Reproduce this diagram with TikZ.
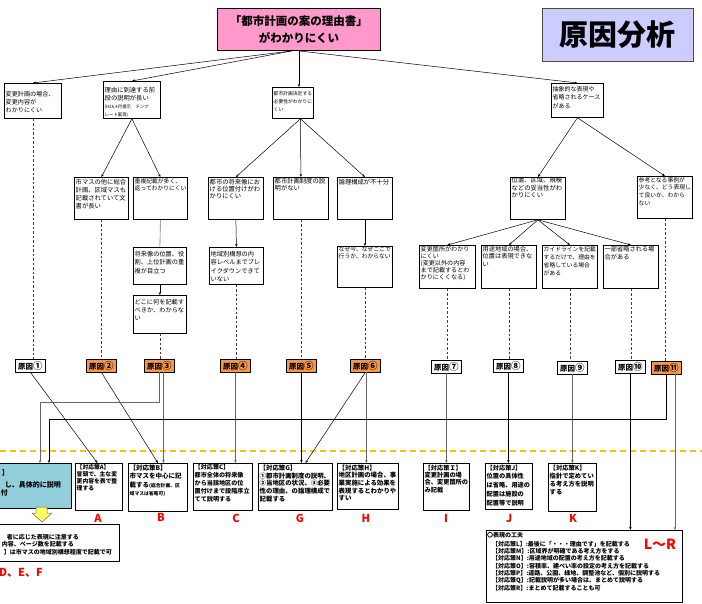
\documentclass[tikz,border=0pt]{standalone}
\usepackage{fontspec}
\setmainfont{Noto Sans CJK JP}
\usetikzlibrary{arrows.meta,calc}
\definecolor{pinkf}{HTML}{FF99CC}
\definecolor{lavf}{HTML}{CCCCFF}
\definecolor{orgf}{HTML}{F79646}
\definecolor{bluef}{HTML}{92CDDC}
\definecolor{yelf}{HTML}{FFFF66}
\definecolor{sepc}{HTML}{FFC000}
\definecolor{redc}{HTML}{FF0000}
\newcommand\fsz[2]{\fontsize{#1}{#2}\selectfont}
\newcommand\mkbox[7][]{%
  \node[bx,minimum width={#5-#3},minimum height={#6-#4}] (#2) at (#3,#4) {};
  \node[tx,#1] (#2t) at ([xshift=1.5pt,yshift=-1.5pt]#2.north west) {#7};}
\newcommand\mktag[5]{%
  \node[tagst,fill=#4] (#1) at (#2,#3) {原因{\fsz{9.5}{8}#5}};}
\begin{document}
\begin{tikzpicture}[x=1pt,y=-1pt,
  bx/.style={draw=black,line width=0.8pt,fill=white,inner sep=0pt,anchor=north west},
  tx/.style={inner sep=0pt,anchor=north west,align=left,font=\fsz{6.2}{7.6}},
  btx/.style={tx,font=\bfseries\fsz{6.3}{8}},
  tagst/.style={draw=black,line width=0.8pt,inner sep=0pt,minimum width=30pt,minimum height=12.5pt,anchor=north west,font=\bfseries\fsz{7.5}{8}},
  arr/.style={-{Stealth[length=3pt,width=2.4pt]},line width=0.5pt},
  gl/.style={line width=0.6pt,draw=black!55},
  dsh/.style={dash pattern=on 2.5pt off 2pt,line width=0.6pt,draw=black!75},
  redlab/.style={text=redc,inner sep=0pt,font=\bfseries\fsz{11}{11}}]
\useasboundingbox (0,0) rectangle (702,604);
\clip (0,0) rectangle (702,604);

% ---------- header ----------
\node[draw=black,line width=0.9pt,fill=pinkf,anchor=north west,minimum width=163pt,minimum height=42pt,inner sep=0pt,align=center,font=\bfseries\fsz{11.5}{16.5}] (title) at (217,8) {「都市計画の案の理由書」\\がわかりにくい};
\node[draw=black!70,line width=0.9pt,fill=lavf,anchor=north west,minimum width=151pt,minimum height=53pt,inner sep=0pt,font=\bfseries\fsz{29}{30}] (gen) at (542,8) {原因分析};

% ---------- level 1 ----------
\mkbox[yshift=-6.5pt,font=\fsz{6.1}{8}]{b1}{4}{83}{61}{118}{変更計画の場合、\\変更内容が\\わかりにくい}
\mkbox[yshift=-4.5pt,font=\fsz{6.3}{8}]{b2}{103}{81}{160}{118}{理由に到達する前\\段の説明が長い\\{\fsz{4.4}{8}(H26.4月提示　テンプ}\\{\fsz{4.4}{8}レート案等)}}
\mkbox[yshift=-3pt,font=\fsz{4.8}{8}]{b3}{272}{87}{313}{118}{都市計画決定する\\必要性がわかりに\\くい}
\mkbox[yshift=-1.5pt,font=\fsz{6}{8.5}]{b4}{551}{83}{603}{117}{抽象的な表現や\\省略されるケース\\がある}

% ---------- level 2 ----------
\mkbox[font=\fsz{6.3}{8.3}]{c1}{74}{177}{128}{219}{市マスの他に総合\\計画、区域マスも\\記載されていて文\\書が長い}
\mkbox[font=\fsz{5.8}{7}]{c2}{133}{177}{187}{219}{重複記載が多く、\\返ってわかりにくい}
\mkbox[font=\fsz{6.3}{7.3}]{c3}{208}{177}{263}{219}{都市の将来像にお\\ける位置付けがわ\\かりにくい}
\mkbox[yshift=1pt,font=\fsz{6.3}{7}]{c4}{273}{177}{328}{219}{都市計画制度の説\\明がない}
\mkbox[font=\fsz{6.3}{7}]{c5}{337}{177}{392}{219}{論理構成が不十分}
\mkbox[yshift=1pt,font=\fsz{6.3}{7.5}]{c6}{510}{177}{565}{219}{位置、区域、規模\\などの妥当性がわ\\かりにくい}
\mkbox[yshift=0.5pt,font=\fsz{5.8}{7.7}]{c7}{637}{176}{692}{218}{参考となる事例が\\少なく、どう表現し\\て良いか、わから\\ない}

% ---------- level 3 ----------
\mkbox[yshift=-2.5pt,font=\fsz{6.2}{8.5}]{d1}{133}{247}{186}{284}{将来像の位置、役\\割、上位計画の重\\複が目立つ}
\mkbox[yshift=-2.5pt,font=\fsz{6.2}{8}]{d2}{133}{295}{186}{333}{どこに何を記載す\\べきか、わからな\\い}
\mkbox[yshift=-2.5pt,font=\fsz{6.2}{8.3}]{d3}{209}{247}{263}{284}{地域別構想の内\\容レベルまでブレ\\イクダウンできて\\いない}
\mkbox[yshift=1.2pt,font=\fsz{5.8}{7}]{d4}{337}{246}{392}{287}{なぜ今、なぜここで\\行うか、わからない}
\mkbox[yshift=0.5pt,font=\fsz{6.1}{7}]{d5}{419}{245}{475}{288}{変更箇所がわかり\\にくい\\(変更以外の内容\\まで記載するとわ\\かりにくくなる)}
\mkbox[yshift=0.5pt,font=\fsz{6.2}{7.5}]{d6}{481}{245}{536}{288}{用途地域の場合、\\位置は表現できな\\い}
\mkbox[yshift=0.5pt,font=\fsz{5.8}{8}]{d7}{542}{245}{597}{288}{ガイドラインを記載\\するだけで、理由を\\省略している場合\\がある}
\mkbox[yshift=0.5pt,font=\fsz{6.2}{8}]{d8}{603}{245}{658}{288}{一部省略される場\\合がある}

% ---------- cause tags ----------
\mktag{t1}{15}{359}{white}{①}
\mktag{t2}{86}{359}{orgf}{②}
\mktag{t3}{144}{359}{orgf}{③}
\mktag{t4}{220}{359}{orgf}{④}
\mktag{t5}{286}{359}{orgf}{⑤}
\mktag{t6}{350}{359}{orgf}{⑥}
\mktag{t7}{431}{360}{white}{⑦}
\mktag{t8}{493}{359}{white}{⑧}
\mktag{t9}{557}{361}{white}{⑨}
\mktag{t10}{615}{360}{white}{⑩}
\mktag{t11}{651}{361}{orgf}{⑪}

% ---------- separator ----------
\draw[sepc,line width=1.3pt,dash pattern=on 6pt off 4pt] (0,451) -- (702,451);

% ---------- countermeasure boxes ----------
\node[bx,fill=bluef,minimum width=151pt,minimum height=45pt] (blue) at (-80,463) {};
\node[inner sep=0pt,anchor=east,font=\bfseries\fsz{7}{8}] (bl1) at (9,473) {】};
\node[inner sep=0pt,anchor=east,font=\bfseries\fsz{7}{8}] (bl2) at (61,485) {し、具体的に説明};
\node[inner sep=0pt,anchor=east,font=\bfseries\fsz{7}{8}] (bl3) at (8,493) {付};
\filldraw[fill=yelf,draw=black!60,line width=0.5pt] (36,507) -- (47,507) -- (47,513) -- (52,513) -- (42,522) -- (32,513) -- (36,513) -- cycle;
\node[bx,minimum width=199pt,minimum height=37pt] (low) at (-80,524) {};
\node[inner sep=0pt,anchor=east,font=\bfseries\fsz{6}{7}] (lw1) at (79,537) {者に応じた表現に注意する};
\node[inner sep=0pt,anchor=east,font=\bfseries\fsz{6}{7}] (lw2) at (74,544.5) {、内容、ページ数を記載する};
\node[inner sep=0pt,anchor=east,font=\bfseries\fsz{6}{7}] (lw3) at (112,552) {】は市マスの地域別構想程度で記載で可};
\node[redlab,anchor=east] (lDEF) at (43,573) {D、E、F};

\mkbox[btx,font=\bfseries\fsz{5.8}{6.8}]{A}{75}{463}{122}{510}{【対応策A】\\冒頭で、主な変\\更内容を表で整\\理する}
\mkbox[btx,font=\bfseries\fsz{6.5}{8.5}]{B}{128}{463}{187}{511}{【対応策B】\\市マスを中心に記\\載する{\fsz{4.8}{8.5}(総合計画、区}\\{\fsz{4.8}{8.5}域マスは省略可)}}
\mkbox[btx,font=\bfseries\fsz{6.1}{8}]{C}{193}{463}{252}{510}{【対応策C】\\都市全体の将来像\\から当該地区の位\\置付けまで段階序立\\てて説明する}
\mkbox[btx,font=\bfseries\fsz{6.4}{7.8}]{G}{258}{463}{332}{510}{【対応策G】\\①都市計画制度の説明、\\②当地区の状況、③必要\\性の理由、の論理構成で\\記載する}
\mkbox[btx,font=\bfseries\fsz{6.4}{7.6}]{H}{337}{463}{398}{509}{【対応策H】\\地区計画の場合、事\\業実施による効果を\\表現するとわかりや\\すい}
\mkbox[btx,font=\bfseries\fsz{6.2}{7.4}]{I}{423}{463}{469}{510}{【対応策Ｉ】\\変更計画の場\\合、変更箇所の\\み記載}
\mkbox[btx,font=\bfseries\fsz{6.2}{8.8}]{J}{485}{463}{532}{509}{【対応策J】\\位置の具体性\\は省略、用途の\\配置は施設の\\配置等で説明}
\mkbox[btx,font=\bfseries\fsz{6.3}{8}]{K}{548}{463}{596}{511}{【対応策K】\\指針で定めてい\\る考え方を説明\\する}
\node[bx,minimum width=196pt,minimum height=72pt] (LR) at (486,530) {};
\node[btx,font=\bfseries\fsz{6}{7}] (LRh) at (487,532) {〇表現の工夫};
\node[btx,font=\bfseries\fsz{6}{7.3}] (LRl) at (492,541) {【対応策L】:最後に「・・・理由です」を記載する\\【対応策M】:区域界が明確である考え方をする\\【対応策N】:用途地域の配置の考え方を記載する\\【対応策O】:容積率、建ぺい率の設定の考え方を記載する\\【対応策P】:道路、公園、緑地、調整池など、個別に説明する\\【対応策Q】:記載説明が多い場合は、まとめて説明する\\【対応策R】:まとめて記載することも可};

\node[redlab] (lA) at (98,518) {A};
\node[redlab] (lB) at (161,517) {B};
\node[redlab] (lC) at (236,518) {C};
\node[redlab] (lG) at (300,518) {G};
\node[redlab] (lH) at (366,518) {H};
\node[redlab] (lI) at (446,518) {I};
\node[redlab] (lJ) at (509,518) {J};
\node[redlab] (lK) at (573,518) {K};
\node[redlab,font=\bfseries\fsz{14}{14}] (lLR) at (660,544) {L〜R};

% ---------- tree connectors ----------
\draw[arr] ([xshift=-7pt]title.south) -- (b1.north);
\draw[arr] ([xshift=-7pt]title.south) -- (b2.north);
\draw[arr] (title.south) -- (title.south |- b3.north);
\draw[arr] (title.south) -- (b4.north);
\draw[arr] (b2.south) -- (c1.north);
\draw[arr] (b2.south) -- (c2.north);
\coordinate (b3s) at ([xshift=7.5pt]b3.south);
\draw[arr] (b3s) -- (c3.north);
\draw[arr] (b3s) -- (c4.north);
\draw[arr] (b3s) -- (c5.north);
\draw[arr] (b4.south) -- (c6.north);
\draw[arr] (b4.south) -- (c7.north);
\draw[arr] (c6.south) -- (d5.north);
\draw[arr] (c6.south) -- (d6.north);
\draw[arr] (c6.south) -- (d7.north);
\draw[arr] (c6.south) -- (d8.north);
\draw[arr] (c3.south) -- (d3.north);
\draw[arr] (c5.south) -- (d4.north);
\draw[gl] (c2.south) -- (d1.north);
\draw[arr] (d1.south) -- (d2.north);

% ---------- dashed to tags ----------
\draw[dsh] (b1.south) -- (b1.south |- t1.north);
\draw[dsh] (c1.south) -- (c1.south |- t2.north);
\draw[dsh] (d2.south) -- (d2.south |- t3.north);
\draw[dsh] (d3.south) -- (d3.south |- t4.north);
\draw[dsh] (c4.south) -- (c4.south |- t5.north);
\draw[dsh] (d4.south) -- (d4.south |- t6.north);
\draw[dsh] (d5.south) -- (d5.south |- t7.north);
\draw[dsh] (d6.south) -- (d6.south |- t8.north);
\draw[dsh] (d7.south) -- (d7.south |- t9.north);
\draw[dsh] (d8.south) -- (d8.south |- t10.north);
\draw[dsh] (c7.south) -- (c7.south |- t11.north);

% ---------- tags to countermeasures ----------
\draw[arr] (t1.south) -- ([xshift=-1.5pt]A.north);
\draw[arr] (t2.south) -- (B.north);
\draw[arr,draw=black!60] (t3.south) -- ++(0,30) -| ([xshift=120pt]blue.north west);
\coordinate (t3b) at ([xshift=4pt]t3.south);
\draw[arr,draw=black!60] (t3b) -- (t3b |- B.north);
\draw[arr,draw=black!60] (t4.south) -- (t4.south |- C.north);
\draw[arr] (t5.south) -- (t5.south |- G.north);
\draw[arr] (t6.south) -- ([xshift=10pt]G.north);
\coordinate (t6b) at ([xshift=1pt]t6.south);
\draw[arr,draw=black!60] (t6b) -- (t6b |- H.north);
\draw[arr,draw=black!60] (t7.south) -- (t7.south |- I.north);
\draw[arr] (t8.south) -- (t8.south |- J.north);
\draw[arr,draw=black!60] (t9.south) -- (t9.south |- K.north);
\draw[arr] (t10.south) -- (t10.south |- LR.north);
\draw[arr] (t11.south) -- ++(0,45) -| ([xshift=129pt]blue.north west);
\coordinate (t11b) at ([xshift=8.5pt]t11.south);
\draw[arr,draw=black!60] (t11b) -- (t11b |- LR.north);
\end{tikzpicture}
\end{document}
